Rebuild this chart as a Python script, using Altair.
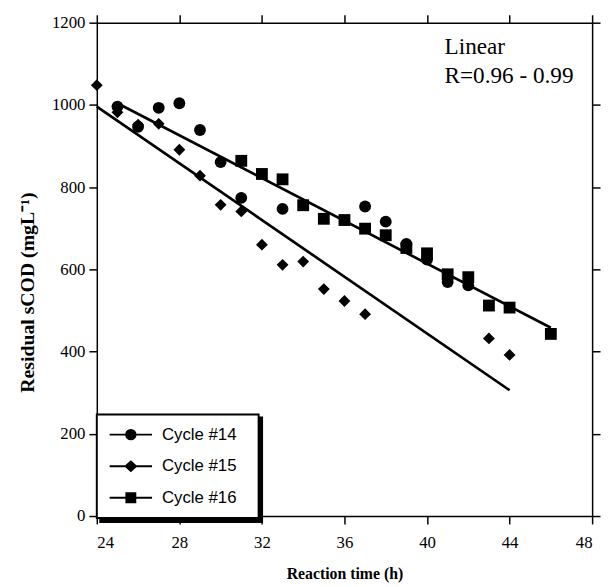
import altair as alt
import pandas as pd

# ---------------- data ----------------
series_names = ["Cycle #14", "Cycle #15", "Cycle #16"]

c14_time = [25, 26, 27, 28, 29, 30, 31, 33, 37, 38, 39, 40, 41, 42]
c14_scod = [996, 947, 993, 1004, 939, 861, 774, 747, 753, 716, 662, 624, 569, 561]

c15_time = [24, 25, 26, 27, 28, 29, 30, 31, 32, 33, 34, 35, 36, 37, 43, 44]
c15_scod = [1048, 982, 952, 954, 891, 828, 757, 741, 660, 611, 619, 552, 523, 491, 432, 392]

c16_time = [31, 32, 33, 34, 35, 36, 37, 38, 39, 40, 41, 42, 43, 44, 46]
c16_scod = [864, 832, 819, 756, 723, 720, 699, 683, 652, 639, 588, 581, 512, 507, 443]

# linear fits (end points)
fit_upper_time = [25, 46]
fit_upper_scod = [1004, 458]
fit_lower_time = [24, 44]
fit_lower_scod = [996, 306]

note_text = ["Linear", "R=0.96 - 0.99"]
note_time = [40.85, 40.85]
note_scod = [1124, 1054]

x_ticks = [24, 28, 32, 36, 40, 44, 48]
y_ticks = [0, 200, 400, 600, 800, 1000, 1200]

# ---------------- tables ----------------
pts = pd.concat([
    pd.DataFrame({"time": c14_time, "scod": c14_scod, "series": series_names[0]}),
    pd.DataFrame({"time": c15_time, "scod": c15_scod, "series": series_names[1]}),
    pd.DataFrame({"time": c16_time, "scod": c16_scod, "series": series_names[2]}),
], ignore_index=True)

fits = pd.concat([
    pd.DataFrame({"time": fit_upper_time, "scod": fit_upper_scod, "fit": "upper"}),
    pd.DataFrame({"time": fit_lower_time, "scod": fit_lower_scod, "fit": "lower"}),
], ignore_index=True)

notes = pd.DataFrame({"time": note_time, "scod": note_scod, "text": note_text})
legend_df = pd.DataFrame({"series": series_names, "shadow": series_names})

# ---------------- scales / axes ----------------
xs = alt.Scale(domain=[24, 48], nice=False, zero=False)
ys = alt.Scale(domain=[0, 1200], nice=False, zero=False)

x_axis = alt.Axis(values=x_ticks, format="d", title="Reaction time (h)",
                  labelPadding=11, titlePadding=15)
y_axis = alt.Axis(values=y_ticks, format="d", title="Residual sCOD (mgL⁻¹)",
                  labelPadding=4, titlePadding=14, titleFontSize=20, titleY=273)

# legend symbols: line segment with a marker in the middle
legend_paths = [
    "M-4.3,0H4.3M-0.95,0A0.95,0.95,0,1,1,0.95,0A0.95,0.95,0,1,1,-0.95,0Z",
    "M-4.3,0H4.3M-1.05,0L0,-0.95L1.05,0L0,0.95Z",
    "M-4.3,0H4.3M-0.9,-0.9H0.9V0.9H-0.9Z",
]

points = alt.Chart(pts).mark_point(filled=True, color="black", opacity=1, size=144).encode(
    x=alt.X("time:Q", scale=xs, axis=x_axis),
    y=alt.Y("scod:Q", scale=ys, axis=y_axis),
    shape=alt.Shape("series:N", scale=alt.Scale(domain=series_names,
                                                range=["circle", "diamond", "square"]),
                    legend=None),
)

frame = alt.Chart(pts).mark_point(opacity=0).encode(
    x=alt.X("time:Q", scale=xs, axis=alt.Axis(orient="top", values=x_ticks, labels=False, title=None)),
    y=alt.Y("scod:Q", scale=ys, axis=alt.Axis(orient="right", values=y_ticks, labels=False, title=None)),
)

lines = alt.Chart(fits).mark_line(color="black", strokeWidth=2.7).encode(
    x=alt.X("time:Q", scale=xs, axis=None),
    y=alt.Y("scod:Q", scale=ys, axis=None),
    detail="fit:N",
)

note = alt.Chart(notes).mark_text(align="left", baseline="alphabetic", font="Liberation Serif",
                                  fontSize=23.5, color="black").encode(
    x=alt.X("time:Q", scale=xs, axis=None),
    y=alt.Y("scod:Q", scale=ys, axis=None),
    text="text:N",
)

common_legend = dict(
    title=None, orient="none", padding=12, rowPadding=13, symbolOffset=14, labelOffset=23,
    labelFont="Liberation Sans", labelFontSize=17,
    labelExpr="datum.label + '\u00a0\u00a0\u200b'",
    symbolStrokeWidth=2, symbolStrokeColor="black", symbolFillColor="black", symbolOpacity=1,
    strokeColor="black",
)

legend_layer = alt.Chart(legend_df).transform_filter("false").mark_point(
    filled=True, opacity=1, size=144).encode(
    x=alt.X("time:Q", scale=xs, axis=None),
    y=alt.Y("scod:Q", scale=ys, axis=None),
    shape=alt.Shape("series:N", scale=alt.Scale(domain=series_names, range=legend_paths),
                    legend=alt.Legend(legendX=0, legendY=397, fillColor="white",
                                      labelColor="black", zindex=2, **common_legend)),
    color=alt.Color("shadow:N", scale=alt.Scale(domain=series_names[::-1],
                                                range=["black", "black", "black"]),
                    legend=alt.Legend(legendX=3.5, legendY=400, fillColor="black",
                                      labelColor="black", labelOpacity=0, zindex=1,
                                      **common_legend)),
)

chart = alt.layer(points, frame, lines, note, legend_layer).resolve_axis(
    x="independent", y="independent"
).resolve_scale(shape="independent").properties(
    width=502, height=500,
    padding={"left": 90, "top": 11, "right": 9, "bottom": 66},
    autosize=alt.AutoSizeParams(type="none"),
).configure_view(stroke=None).configure_axis(
    grid=False, domainColor="black", domainWidth=1.5, tickColor="black", tickWidth=1.5,
    tickSize=8, labelFont="Liberation Serif", labelFontSize=17, labelColor="black",
    titleFont="Liberation Serif", titleFontSize=16, titleFontWeight="bold", titleColor="black",
).configure_legend(strokeWidth=2)

chart.save("out.html", embed_options={"renderer": "svg", "actions": False})
